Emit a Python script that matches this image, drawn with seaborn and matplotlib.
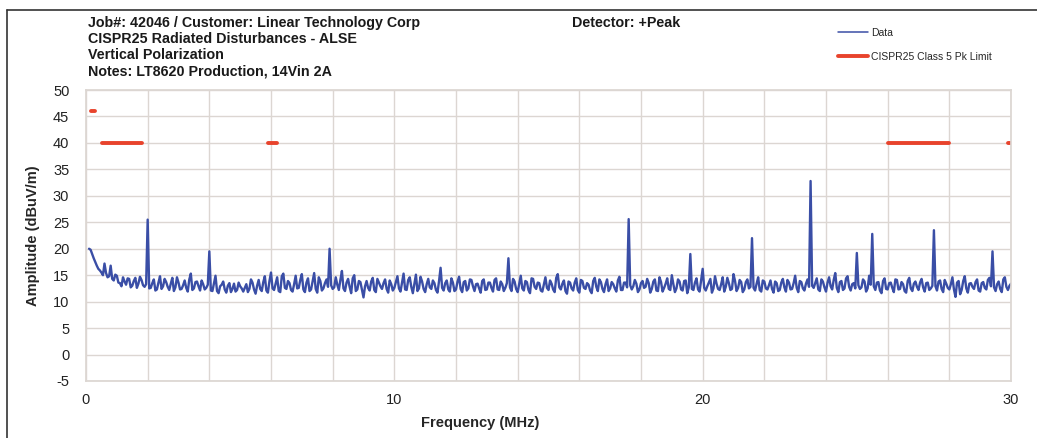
import numpy as np
import pandas as pd
import seaborn as sns
import matplotlib.pyplot as plt

# sweep points on a 0.1 MHz grid (0.1 .. 30.0 MHz)
freq_a = np.round(np.arange(1, 301) * 0.1, 1)
# in-between sweep points (0.15 .. 29.95 MHz)
freq_b = np.round(np.arange(1, 300) * 0.1 + 0.05, 2)

# measured amplitude (dBuV/m) at freq_a, one row per MHz
amp_a = [
    20.0, 19.0, 17.5, 16.2, 15.5, 17.2, 14.6, 16.8, 14.0, 14.9,
    13.5, 14.6, 13.2, 14.3, 13.0, 14.5, 13.4, 14.1, 12.8, 25.5,
    12.6, 14.2, 12.3, 14.8, 12.9, 13.7, 12.2, 14.5, 12.7, 13.6,
    12.4, 14.0, 11.9, 15.3, 12.5, 13.8, 12.1, 13.3, 12.6, 19.5,
    12.0, 14.9, 11.6, 13.2, 12.3, 13.0, 11.8, 13.4, 12.2, 12.9,
    11.9, 13.3, 12.4, 13.6, 11.5, 14.1, 12.0, 14.8, 11.7, 15.5,
    12.2, 14.6, 11.8, 15.3, 12.4, 13.5, 11.9, 14.9, 12.6, 15.2,
    11.8, 14.4, 12.3, 15.4, 11.7, 13.9, 12.5, 14.2, 20.0, 12.4,
    14.6, 12.2, 15.8, 12.0, 14.3, 11.6, 15.0, 12.3, 13.7, 10.8,
    13.9, 12.1, 14.5, 11.8, 13.6, 12.4, 14.2, 11.7, 13.3, 12.6,
    14.8, 11.9, 15.3, 12.2, 14.6, 11.6, 15.1, 12.5, 13.8, 11.8,
    14.3, 12.4, 13.5, 11.7, 16.4, 12.1, 14.0, 11.9, 13.6, 12.3,
    14.7, 11.8, 13.9, 12.5, 14.1, 12.0, 13.4, 11.7, 14.2, 12.3,
    13.6, 11.9, 14.4, 12.2, 13.3, 12.6, 18.2, 12.0, 13.8, 11.8,
    14.9, 12.1, 13.7, 11.6, 14.3, 12.4, 13.5, 11.9, 14.6, 12.2,
    13.4, 11.8, 15.2, 12.3, 14.0, 11.5, 13.6, 12.1, 14.4, 11.7,
    13.9, 12.4, 13.2, 11.6, 14.5, 12.0, 13.7, 11.8, 14.2, 12.5,
    13.3, 11.9, 14.7, 12.2, 13.6, 25.6, 12.3, 14.1, 11.8, 13.5,
    12.6, 14.3, 11.7, 13.8, 12.1, 14.6, 11.9, 13.4, 12.4, 15.0,
    11.8, 14.2, 12.3, 13.9, 11.6, 19.0, 12.2, 14.4, 11.9, 16.2,
    12.1, 13.6, 11.7, 14.8, 12.4, 13.3, 11.9, 14.5, 12.2, 15.2,
    12.0, 14.1, 11.8, 13.7, 12.5, 22.0, 12.1, 14.6, 11.9, 13.8,
    12.3, 14.0, 11.7, 13.5, 12.2, 14.3, 11.9, 13.6, 12.4, 14.9,
    11.8, 13.7, 12.1, 14.2, 32.8, 12.6, 14.4, 12.0, 13.8, 11.9,
    14.6, 12.3, 15.4, 11.8, 13.9, 12.5, 14.8, 12.1, 13.5, 19.2,
    12.4, 14.2, 11.9, 14.9, 22.8, 12.2, 13.7, 11.6, 14.4, 12.3,
    13.6, 11.8, 14.1, 12.4, 13.3, 11.7, 14.5, 12.0, 13.8, 12.2,
    14.3, 11.9, 13.6, 12.5, 23.5, 12.1, 14.0, 11.8, 13.4, 12.3,
    14.6, 10.9, 13.9, 12.2, 14.8, 11.7, 13.5, 12.4, 14.2, 11.9,
    13.7, 12.3, 14.5, 19.5, 12.0, 13.8, 11.8, 14.6, 12.2, 13.4,
]

# measured amplitude (dBuV/m) at freq_b
amp_b = [
    19.8, 18.2, 16.8, 15.9, 15.0, 15.4, 14.8, 14.3, 15.1, 13.6,
    12.9, 13.8, 14.4, 12.7, 13.9, 12.6, 14.7, 13.1, 13.3, 12.5,
    13.5, 12.1, 13.6, 12.4, 14.3, 12.8, 13.4, 12.0, 14.6, 12.3,
    13.1, 12.6, 14.2, 12.2, 13.7, 12.9, 14.0, 12.3, 13.2, 12.1,
    13.4, 12.0, 12.9, 13.8, 11.7, 13.5, 12.4, 11.9, 13.6, 12.5,
    12.6, 11.8, 14.2, 12.3, 13.0, 12.4, 13.7, 12.1, 13.9, 12.5,
    13.4, 12.0, 14.8, 12.6, 13.9, 12.2, 13.3, 12.5, 14.1, 12.3,
    13.6, 12.0, 13.8, 12.4, 14.6, 12.1, 13.5, 12.8, 13.1, 12.7,
    13.2, 14.1, 12.5, 13.6, 12.8, 14.4, 12.0, 13.9, 12.2, 12.9,
    12.6, 13.8, 12.2, 14.3, 12.9, 13.5, 12.4, 14.0, 12.1, 13.7,
    12.5, 13.6, 12.3, 14.1, 12.8, 13.4, 12.0, 14.7, 12.4, 13.3,
    12.7, 14.0, 12.2, 13.9, 12.6, 13.5, 12.3, 14.4, 12.0, 13.8,
    12.4, 13.7, 12.1, 14.2, 12.9, 13.3, 12.5, 13.9, 12.2, 13.6,
    12.6, 14.1, 12.3, 13.8, 12.0, 13.5, 12.7, 14.3, 12.4, 13.4,
    12.5, 13.9, 12.2, 14.4, 12.8, 13.6, 12.1, 13.3, 12.6, 14.0,
    12.3, 14.5, 12.7, 13.4, 12.0, 13.8, 12.5, 13.6, 12.2, 14.1,
    12.6, 13.5, 12.1, 13.9, 12.8, 14.2, 12.4, 13.3, 12.0, 13.7,
    12.5, 14.0, 12.2, 13.6, 12.7, 13.1, 12.9, 13.4, 12.3, 13.9,
    12.8, 13.5, 12.4, 14.2, 12.0, 13.7, 12.6, 14.4, 12.2, 13.3,
    12.5, 13.8, 12.1, 14.0, 12.7, 12.4, 13.6, 12.3, 14.1, 12.6,
    12.9, 14.3, 12.5, 13.4, 12.2, 14.6, 12.8, 13.5, 12.4, 13.9,
    12.6, 13.7, 12.3, 14.2, 12.8, 12.6, 13.4, 12.2, 14.0, 12.5,
    13.1, 12.4, 13.8, 12.0, 13.6, 12.7, 14.1, 12.3, 13.5, 12.6,
    13.9, 12.5, 13.4, 12.8, 13.0, 13.5, 12.3, 14.2, 12.7, 13.6,
    12.9, 14.1, 12.6, 13.7, 12.2, 14.4, 12.8, 13.3, 12.5, 13.1,
    12.7, 13.8, 12.5, 13.2, 12.9, 13.6, 12.1, 13.9, 12.4, 13.5,
    12.6, 14.2, 12.3, 13.7, 12.0, 13.9, 12.5, 13.4, 12.8, 13.6,
    12.7, 13.5, 12.2, 13.0, 12.9, 13.8, 12.4, 14.1, 12.6, 13.3,
    12.3, 13.6, 11.4, 13.9, 12.5, 13.4, 12.8, 13.7, 12.1, 13.5,
    12.6, 14.1, 12.9, 12.7, 13.3, 12.4, 14.2, 12.8, 13.0,
]

# CISPR25 class 5 peak limit bands
band_start = [0.15, 0.53, 5.9, 26.0, 29.9]
band_stop = [0.3, 1.8, 6.2, 28.0, 30.0]
band_level = [46, 40, 40, 40, 40]

trace = pd.DataFrame({
    "freq": np.concatenate([freq_a, freq_b]),
    "amp": np.concatenate([amp_a, amp_b]),
}).sort_values("freq")

limits = pd.DataFrame({
    "band": np.repeat(np.arange(len(band_start)), 2),
    "freq": np.ravel(np.column_stack([band_start, band_stop])),
    "level": np.repeat(band_level, 2),
})

sns.set_theme(style="whitegrid")
plt.rcParams["font.family"] = ["Liberation Sans", "DejaVu Sans"]
plt.rcParams["axes.unicode_minus"] = False

fig = plt.figure(figsize=(10.37, 4.38), dpi=100)
ax = fig.add_axes([86 / 1037, 57 / 438, 925 / 1037, 291 / 438])

blue = "#3a4ea6"
red = "#e8432c"

sns.lineplot(data=trace, x="freq", y="amp", ax=ax, color=blue, lw=1.7, label="Data")
sns.lineplot(data=limits, x="freq", y="level", units="band", estimator=None,
             ax=ax, color=red, lw=2.8, label="CISPR25 Class 5 Pk Limit")

ax.set_xlim(0, 30)
ax.set_ylim(-5, 50)
ax.set_xticks(np.arange(0, 31, 2), minor=True)
ax.set_xticks([0, 10, 20, 30])
ax.set_yticks(np.arange(-5, 51, 5))
ax.grid(True, which="both", color="#dcd6d2", lw=1.0)
ax.tick_params(axis="both", labelsize=10.5, colors="#222222", length=0)
ax.tick_params(axis="x", pad=9)
ax.tick_params(axis="y", pad=12)
for s in ax.spines.values():
    s.set_color("#dcd6d2")
ax.set_xlabel("")
ax.set_ylabel("Amplitude (dBuV/m)", fontsize=10.5, fontweight="bold", labelpad=9)

fig.text(480 / 1037, 1 - 423 / 438, "Frequency (MHz)", ha="center", va="center",
         fontsize=10.5, fontweight="bold")

head = ["Job#: 42046 / Customer: Linear Technology Corp",
        "CISPR25 Radiated Disturbances - ALSE",
        "Vertical Polarization",
        "Notes: LT8620 Production, 14Vin 2A"]
for i, line in enumerate(head):
    fig.text(88 / 1037, 1 - (23 + 16 * i) / 438, line, ha="left", va="center",
             fontsize=10.3, fontweight="bold", color="#1a1a1a")
fig.text(572 / 1037, 1 - 23 / 438, "Detector: +Peak", ha="left", va="center",
         fontsize=10.3, fontweight="bold", color="#1a1a1a")

handles, labels = ax.get_legend_handles_labels()
seen = {}
for h, l in zip(handles, labels):
    seen.setdefault(l, h)
leg = ax.legend(list(seen.values()), list(seen.keys()),
                loc="upper left", bbox_to_anchor=(838 / 1037, 1 - 28 / 438),
                bbox_transform=fig.transFigure, frameon=False, fontsize=7.5,
                handlelength=2.9, handletextpad=0.3, labelspacing=1.3,
                borderpad=0, borderaxespad=0)
leg.get_lines()[0].set_linewidth(1.1)

# outer frame, top and left
fig.add_artist(plt.Line2D([7 / 1037, 1], [1 - 10 / 438, 1 - 10 / 438],
                          transform=fig.transFigure, color="#333333", lw=1.2))
fig.add_artist(plt.Line2D([7 / 1037, 7 / 1037], [0, 1 - 10 / 438],
                          transform=fig.transFigure, color="#333333", lw=1.2))

fig.savefig("out.png", dpi=100)
